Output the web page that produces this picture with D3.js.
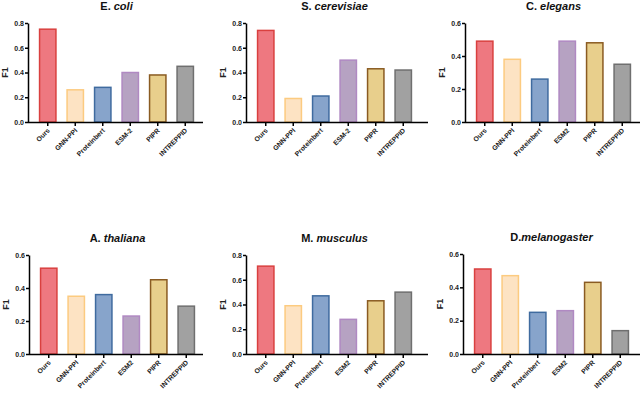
<!DOCTYPE html>
<html><head><meta charset="utf-8">
<script src="https://cdn.jsdelivr.net/npm/d3@7"></script>
<style>body{margin:0;background:#fff}svg{display:block}text{font-family:"Liberation Sans",Arial,sans-serif;font-weight:bold}</style>
</head><body>
<svg id="c" width="640" height="395"></svg>
<script>
const titlesPre = ["E. ", "S. ", "C. ", "A. ", "M. ", "D."];
const titlesIt = ["coli", "cerevisiae", "elegans", "thaliana", "musculus", "melanogaster"];
const catsA = ["Ours", "GNN-PPI", "Proteinbert", "ESM-2", "PIPR", "INTREPPID"];
const catsB = ["Ours", "GNN-PPI", "Proteinbert", "ESM2", "PIPR", "INTREPPID"];
const ecoli = [0.75, 0.26, 0.28, 0.40, 0.38, 0.45];
const scerevisiae = [0.74, 0.19, 0.21, 0.50, 0.43, 0.42];
const celegans = [0.49, 0.38, 0.26, 0.49, 0.48, 0.35];
const athaliana = [0.52, 0.35, 0.36, 0.23, 0.45, 0.29];
const mmusculus = [0.71, 0.39, 0.47, 0.28, 0.43, 0.50];
const dmelanogaster = [0.51, 0.47, 0.25, 0.26, 0.43, 0.14];
const ticks08 = [0, 0.2, 0.4, 0.6, 0.8];
const ticks06 = [0, 0.2, 0.4, 0.6];
const fills = ["#ee7880", "#fde3c3", "#87a4cb", "#b6a2c2", "#e8cf8c", "#a1a1a1"];
const strokes = ["#d9403f", "#fccb80", "#3f6b9f", "#b089c2", "#8a5b22", "#6f6f6f"];

const panels = [
  {vals: ecoli, cats: catsA, ticks: ticks08, max: 0.8, x0: 28, x1: 203, yt: 23, yb: 122},
  {vals: scerevisiae, cats: catsA, ticks: ticks08, max: 0.8, x0: 246, x1: 428, yt: 23, yb: 122},
  {vals: celegans, cats: catsB, ticks: ticks06, max: 0.6, x0: 465, x1: 640, yt: 23, yb: 122},
  {vals: athaliana, cats: catsB, ticks: ticks06, max: 0.6, x0: 29, x1: 203, yt: 255, yb: 354},
  {vals: mmusculus, cats: catsB, ticks: ticks08, max: 0.8, x0: 246, x1: 428, yt: 255, yb: 354},
  {vals: dmelanogaster, cats: catsB, ticks: ticks06, max: 0.6, x0: 463, x1: 640, yt: 254, yb: 354}
];

const svg = d3.select("#c");
panels.forEach((p, i) => {
  const g = svg.append("g");
  const x = d3.scaleBand().domain(p.cats).range([p.x0 + 6, p.x0 + 6 + 27.5 * 6]).paddingInner(0.35).paddingOuter(0.175);
  const y = d3.scaleLinear().domain([0, p.max]).range([p.yb, p.yt]);
  g.selectAll("rect").data(p.vals).join("rect")
    .attr("x", (d, j) => x(p.cats[j]) + 0.75)
    .attr("width", x.bandwidth() - 1.5)
    .attr("y", d => y(d))
    .attr("height", d => y(0) - y(d))
    .attr("fill", (d, j) => fills[j])
    .attr("stroke", (d, j) => strokes[j])
    .attr("stroke-width", 1.5);
  const ya = g.append("g").attr("transform", `translate(${p.x0},0)`)
    .call(d3.axisLeft(y).tickValues(p.ticks).tickFormat(d3.format(".1f")).tickSize(3).tickSizeOuter(0));
  ya.select(".domain").attr("stroke", "#000").attr("stroke-width", 1.5);
  ya.selectAll(".tick line").attr("stroke-width", 1.5);
  ya.selectAll(".tick text").attr("font-size", 7).attr("x", -4).attr("fill", "#222");
  const xa = g.append("g").attr("transform", `translate(0,${p.yb})`)
    .call(d3.axisBottom(x).tickSize(4).tickSizeOuter(0));
  xa.select(".domain").attr("d", `M${p.x0},0.5H${p.x1}`).attr("stroke", "#000").attr("stroke-width", 1.5);
  xa.selectAll(".tick line").attr("stroke-width", 1.5);
  xa.selectAll(".tick text").attr("font-size", 6.8).attr("fill", "#222")
    .attr("text-anchor", "end").attr("dy", 0)
    .attr("transform", "translate(2.5,9) rotate(-45)").attr("y", 0).attr("x", 0);
  g.append("text").attr("transform", `translate(${p.x0 - 20},${(p.yt + p.yb) / 2}) rotate(-90)`)
    .attr("text-anchor", "middle").attr("font-size", 9).attr("fill", "#222").text("F1");
  const t = g.append("text").attr("x", (p.x0 + 6 + p.x0 + 6 + 165) / 2).attr("y", p.yt - 13)
    .attr("text-anchor", "middle").attr("font-size", 11).attr("fill", "#111");
  t.append("tspan").text(titlesPre[i]);
  t.append("tspan").attr("font-style", "italic").text(titlesIt[i]);
});
</script>
</body></html>
